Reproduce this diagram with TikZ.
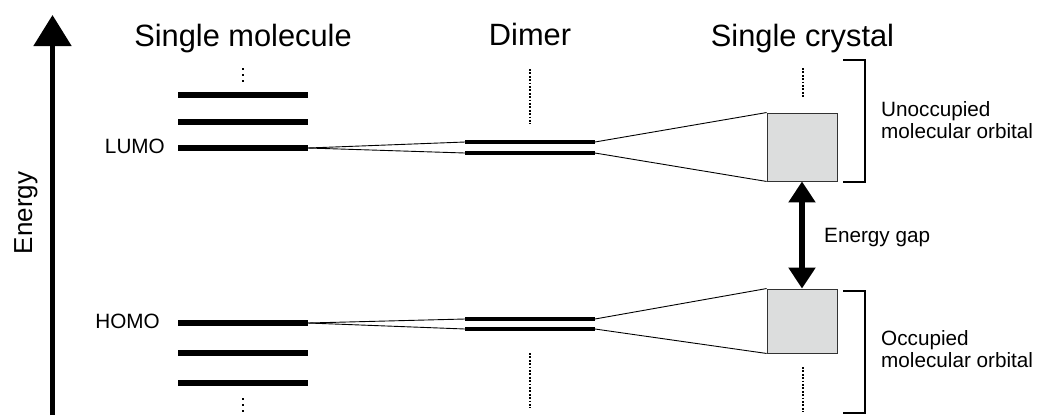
\documentclass[tikz,border=0pt]{standalone}
\usepackage{fontspec}
\setmainfont{Liberation Sans}
\usetikzlibrary{arrows.meta}
\definecolor{boxgray}{RGB}{220,221,221}
\definecolor{boxline}{RGB}{50,50,50}
\begin{document}
\begin{tikzpicture}[x=1bp,y=-1bp,
  title/.style={anchor=base,inner sep=0pt,font=\fontsize{30.8bp}{36bp}\selectfont},
  lab/.style={inner sep=0pt,font=\fontsize{20.7bp}{22.5bp}\selectfont},
  bar/.style={line width=5.3bp},
  dbar/.style={line width=4.4bp},
  conn/.style={line width=0.9bp},
  cbox/.style={draw=boxline,fill=boxgray,line width=0.9bp,minimum width=70bp,inner sep=0pt},
  sdots/.style={line width=2bp,dash pattern=on 1.8bp off 4.2bp},
  ldots/.style={line width=2bp,dash pattern=on 1.7bp off 1.7bp},
  brk/.style={line width=1.6bp},
  gaparrow/.style={line width=6bp,{Triangle[length=21bp,width=26bp]}-{Triangle[length=21bp,width=26bp]}},
  earrow/.style={line width=5bp,-{Triangle[length=31bp,width=37bp]}}
]
\useasboundingbox (0,0) rectangle (1037,415);

% energy axis
\coordinate (ebot) at (52.5,415);
\coordinate (etop) at (52.5,15);
\draw[earrow] (ebot) -- (etop);
\node[rotate=90,anchor=base,inner sep=0pt,font=\fontsize{26bp}{30bp}\selectfont] (elab) at (32,213) {Energy};

% titles
\node[title] (t1) at (243,46) {Single molecule};
\node[title] (t2) at (530,45) {Dimer};
\node[title] (t3) at (802.5,46) {Single crystal};

% single molecule levels
\coordinate (m1l) at (178,95);  \coordinate (m1r) at (308,95);
\coordinate (m2l) at (178,122); \coordinate (m2r) at (308,122);
\coordinate (lumoL) at (178,148); \coordinate (lumoR) at (308,148);
\coordinate (homoL) at (178,323); \coordinate (homoR) at (308,323);
\coordinate (m4l) at (178,353); \coordinate (m4r) at (308,353);
\coordinate (m5l) at (178,383); \coordinate (m5r) at (308,383);
\draw[bar] (m1l) -- (m1r);
\draw[bar] (m2l) -- (m2r);
\draw[bar] (lumoL) -- (lumoR);
\draw[bar] (homoL) -- (homoR);
\draw[bar] (m4l) -- (m4r);
\draw[bar] (m5l) -- (m5r);
\node[lab,anchor=base east] (lumo) at (165,153) {LUMO};
\node[lab,anchor=base east] (homo) at (160,328) {HOMO};
\coordinate (sd1a) at (243,68); \coordinate (sd1b) at (243,83);
\coordinate (sd2a) at (243,398); \coordinate (sd2b) at (243,413);
\draw[sdots] (sd1a) -- (sd1b);
\draw[sdots] (sd2a) -- (sd2b);

% dimer levels
\coordinate (dU1L) at (465,142); \coordinate (dU1R) at (595,142);
\coordinate (dU2L) at (465,153); \coordinate (dU2R) at (595,153);
\coordinate (dL1L) at (465,319); \coordinate (dL1R) at (595,319);
\coordinate (dL2L) at (465,329); \coordinate (dL2R) at (595,329);
\draw[dbar] (dU1L) -- (dU1R);
\draw[dbar] (dU2L) -- (dU2R);
\draw[dbar] (dL1L) -- (dL1R);
\draw[dbar] (dL2L) -- (dL2R);
\coordinate (dd1a) at (530,69); \coordinate (dd1b) at (530,124);
\coordinate (dd2a) at (530,353); \coordinate (dd2b) at (530,408);
\draw[ldots] (dd1a) -- (dd1b);
\draw[ldots] (dd2a) -- (dd2b);

% crystal bands
\node[cbox,minimum height=68bp] (ub) at (802,147) {};
\node[cbox,minimum height=64bp] (lb) at (802,321) {};
\coordinate (cd1a) at (803,68); \coordinate (cd1b) at (803,97);
\coordinate (cd2a) at (803,367); \coordinate (cd2b) at (803,412);
\draw[ldots] (cd1a) -- (cd1b);
\draw[ldots] (cd2a) -- (cd2b);

% connectors
\draw[conn] (lumoR) -- (dU1L);
\draw[conn] (lumoR) -- (dU2L);
\draw[conn] (homoR) -- (dL1L);
\draw[conn] (homoR) -- (dL2L);
\draw[conn] (dU1R) -- (ub.north west);
\draw[conn] (dU2R) -- (ub.south west);
\draw[conn] (dL1R) -- (lb.north west);
\draw[conn] (dL2R) -- (lb.south west);

% energy gap
\draw[gaparrow] (ub.south) -- (lb.north);
\node[lab,anchor=base west] (gap) at (824,242) {Energy gap};

% brackets
\coordinate (b1a) at (843,60); \coordinate (b1b) at (865,60);
\coordinate (b1c) at (865,182); \coordinate (b1d) at (843,182);
\draw[brk] (b1a) -- (b1b) -- (b1c) -- (b1d);
\coordinate (b2a) at (843,291); \coordinate (b2b) at (865,291);
\coordinate (b2c) at (865,413); \coordinate (b2d) at (843,413);
\draw[brk] (b2a) -- (b2b) -- (b2c) -- (b2d);
\node[lab,anchor=base west] (umo) at (881,116) {\begin{tabular}[t]{@{}l@{}}Unoccupied\\molecular orbital\end{tabular}};
\node[lab,anchor=base west] (omo) at (881,345) {\begin{tabular}[t]{@{}l@{}}Occupied\\molecular orbital\end{tabular}};
\end{tikzpicture}
\end{document}
